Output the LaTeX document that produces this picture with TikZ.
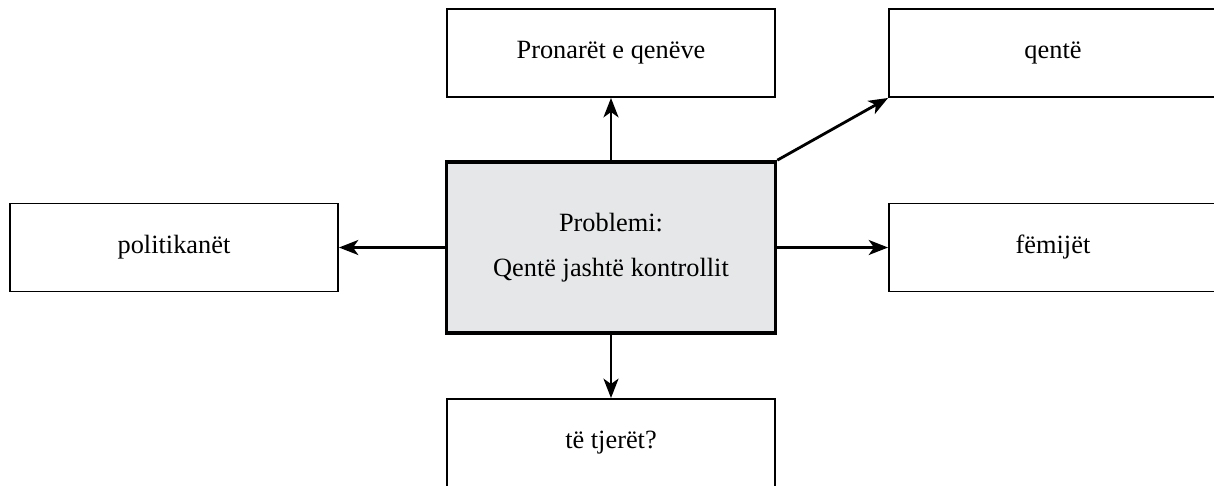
\documentclass[tikz,border=0pt]{standalone}
\usepackage{fontspec}
\setmainfont{Liberation Serif}
\usetikzlibrary{arrows.meta}
\definecolor{probgray}{HTML}{E6E7E8}

\tikzset{
  group/.style={draw, line width=1.1pt, minimum width=6.56cm, minimum height=1.76cm,
    inner sep=0, font=\fontsize{15}{18}\selectfont},
  problem/.style={draw, line width=2.1pt, fill=probgray, minimum width=6.58cm,
    minimum height=3.42cm, align=center, font=\fontsize{15}{18}\selectfont},
  link/.style={line width=1.6pt, -{Stealth[length=11pt, width=8.5pt, inset=3pt]}}
}

\begin{document}
\begin{tikzpicture}[x=0.02cm, y=-0.02cm]
      \useasboundingbox (0, 0) rectangle (1214, 485);
      \clip (0, 0) rectangle (1214, 485);

      \node [problem] (prob) at (611, 247.5) {Problemi:\\[8pt] Qentë jashtë kontrollit};

      \node [group] (owners) at (611, 53) {Pronarët e qenëve};
      \node [group] (dogs) at (1053, 53) {qentë};
      \node [group] (politic) at (174, 247.5) {politikanët};
      \node [group] (kids) at (1053, 247.5) {fëmijët};
      \node [group] (others) at (611, 443) {të tjerët?};

      \draw [link] (prob.north) -- (owners.south);
      \draw [link] (prob.north east) -- (dogs.south west);
      \draw [link] (prob.west) -- (politic.east);
      \draw [link] (prob.east) -- (kids.west);
      \draw [link] (prob.south) -- (others.north);
    \end{tikzpicture}
\end{document}
